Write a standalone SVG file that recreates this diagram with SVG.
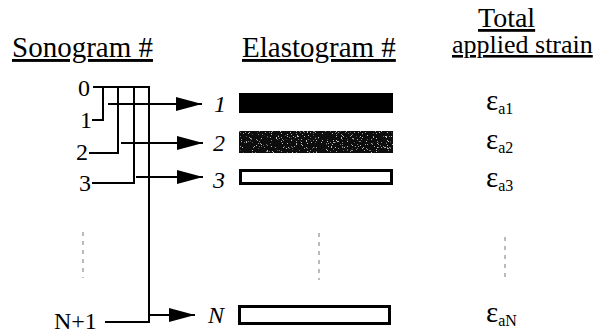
<svg xmlns="http://www.w3.org/2000/svg" width="595" height="335" viewBox="0 0 595 335">
  <style>
    text { font-family: "Liberation Serif", "Times New Roman", serif; fill: #000; }
    .head { font-size: 29px; text-decoration: underline; }
    .num { font-size: 24px; }
    .inum { font-size: 24px; font-style: italic; }
    .eps { font-size: 29px; }
    .sub { font-size: 16px; }
    .wire { fill: none; stroke: #000; stroke-width: 2; }
    .arrow { fill: none; stroke: #000; stroke-width: 2; marker-end: url(#head); }
    .dots { fill: none; stroke: #777; stroke-width: 1; stroke-dasharray: 4 5; }
    .bar-open { fill: #fff; stroke: #000; stroke-width: 3; }
  </style>
  <defs>
    <marker id="head" viewBox="0 0 26 14" refX="26" refY="7" markerWidth="26" markerHeight="14" markerUnits="userSpaceOnUse" orient="auto">
      <path d="M0,0 L26,7 L0,14 Z" fill="#000"/>
    </marker>
    <!-- sparse grey speckles over a dark fill -->
    <filter id="speckle" x="0" y="0" width="1" height="1">
      <feTurbulence type="fractalNoise" baseFrequency="1.2" numOctaves="2" seed="4" result="noise"/>
      <feColorMatrix in="noise" type="matrix" values="0 0 0 0 0.55  0 0 0 0 0.55  0 0 0 0 0.55  0 0 0 14 -9.2" result="specks"/>
      <feComposite in="specks" in2="SourceGraphic" operator="atop"/>
    </filter>
  </defs>

  <!-- column headings -->
  <g id="headings">
    <text class="head" x="12" y="57">Sonogram #</text>
    <text class="head" x="242" y="57">Elastogram #</text>
    <text class="head" x="478" y="27" style="font-size:28px">Total</text>
    <text class="head" x="452" y="53" style="font-size:26px">applied strain</text>
  </g>

  <!-- sonogram indices -->
  <g id="sonograms">
    <text class="num" x="78" y="96">0</text>
    <text class="num" x="80" y="128">1</text>
    <text class="num" x="76" y="160">2</text>
    <text class="num" x="79" y="191">3</text>
    <text class="num" x="54" y="329">N+1</text>
    <line class="dots" x1="83" y1="232" x2="83" y2="278"/>
  </g>

  <!-- connectors pairing sonograms into elastograms -->
  <g id="connectors">
    <path class="wire" d="M93,87 H149 V322 H105"/>
    <path class="wire" d="M103,87 V120 H92"/>
    <path class="wire" d="M118,87 V153 H89"/>
    <path class="wire" d="M134,87 V183 H92"/>
    <line class="arrow" x1="108" y1="104" x2="202" y2="104"/>
    <line class="arrow" x1="121" y1="143" x2="203" y2="143"/>
    <line class="arrow" x1="136" y1="177" x2="203" y2="177"/>
    <line class="arrow" x1="149" y1="315" x2="195" y2="315"/>
  </g>

  <!-- elastograms -->
  <g id="elastogram-1">
    <text class="inum" x="214" y="112">1</text>
    <rect x="239" y="93" width="154" height="20" fill="#000"/>
  </g>
  <g id="elastogram-2">
    <text class="inum" x="213" y="151">2</text>
    <rect x="239" y="131" width="154" height="22" fill="#0a0a0a" filter="url(#speckle)"/>
  </g>
  <g id="elastogram-3">
    <text class="inum" x="213" y="188">3</text>
    <rect class="bar-open" x="240.5" y="170.5" width="151" height="13"/>
  </g>
  <line class="dots" x1="319" y1="233" x2="319" y2="280"/>
  <g id="elastogram-N">
    <text class="inum" x="208" y="323">N</text>
    <rect class="bar-open" x="239.5" y="306.5" width="150" height="17"/>
  </g>

  <!-- applied strain values -->
  <g id="strains">
    <text x="486" y="110"><tspan class="eps">ε</tspan><tspan class="sub" dy="4">a1</tspan></text>
    <text x="486" y="149"><tspan class="eps">ε</tspan><tspan class="sub" dy="4">a2</tspan></text>
    <text x="486" y="187"><tspan class="eps">ε</tspan><tspan class="sub" dy="4">a3</tspan></text>
    <line class="dots" x1="505" y1="237" x2="505" y2="282"/>
    <text x="486" y="322"><tspan class="eps">ε</tspan><tspan class="sub" dy="4">aN</tspan></text>
  </g>
</svg>
